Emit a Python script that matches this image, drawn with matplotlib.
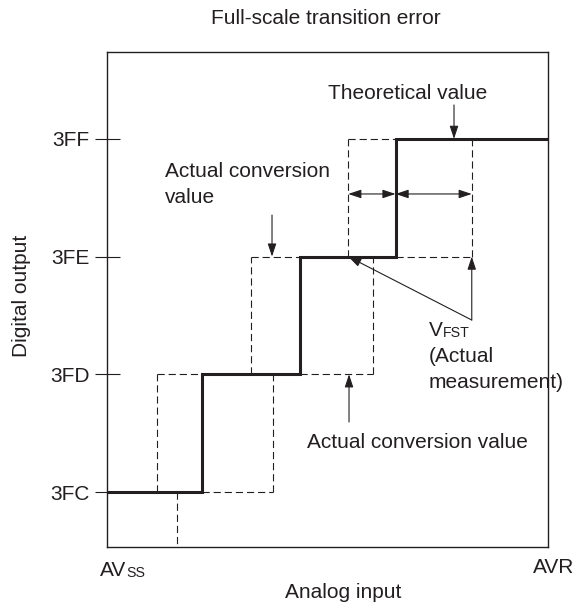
"""Full-scale transition error diagram for an A/D converter."""

import matplotlib

matplotlib.use("Agg")
import matplotlib.pyplot as plt

plt.rcParams["font.family"] = ["Liberation Sans", "DejaVu Sans"]

INK = "#231f20"
FS = 15

# ------------------------------------------------------------------
# Data (x in LSB of analog input, y in output code steps above 3FC)
# ------------------------------------------------------------------
code_labels = ["3FC", "3FD", "3FE", "3FF"]
code_levels = [0, 1, 2, 3]

# thick staircase: transition points of the actual conversion
transitions = [0.98, 2.0, 2.99]

# dashed windows around each transition (left / right edge)
window_left = [0.52, 1.49, 2.50]
window_right = [1.72, 2.76, 3.78]

# lone dashed line below the first code
first_drop_x = 0.725

x_max = 4.57
y_min, y_max = -0.467, 3.738

# ------------------------------------------------------------------
# Figure
# ------------------------------------------------------------------
fig = plt.figure(figsize=(5.81, 6.08), dpi=100)
ax = fig.add_axes([107 / 581, 61 / 608, 441 / 581, 495 / 608])
ax.set_xlim(0, x_max)
ax.set_ylim(y_min, y_max)

for sp in ax.spines.values():
    sp.set_color(INK)
    sp.set_linewidth(1.0)

ax.set_xticks([])
ax.set_yticks(code_levels, code_labels, fontsize=FS, color=INK)
ax.tick_params(axis="y", direction="inout", length=18, width=0.8,
               color=INK, pad=3.5)

# staircase (actual conversion characteristic)
sx = [0]
sy = [code_levels[0]]
for i, t in enumerate(transitions):
    sx += [t, t]
    sy += [code_levels[i], code_levels[i + 1]]
sx.append(x_max)
sy.append(code_levels[-1])
ax.plot(sx, sy, color=INK, lw=2.2, solid_joinstyle="miter", zorder=3)

# dashed windows
dash = dict(color=INK, lw=0.8, linestyle=(0, (6.5, 3.5)), zorder=2)
for i, t in enumerate(transitions):
    lo, hi = code_levels[i], code_levels[i + 1]
    xl, xr = window_left[i], window_right[i]
    ax.plot([xl, xl], [lo, hi], **dash)
    ax.plot([xl, t], [hi, hi], **dash)
    ax.plot([t, xr], [lo, lo], **dash)
    ax.plot([xr, xr], [lo, hi], **dash)
ax.plot([first_drop_x, first_drop_x], [code_levels[0], y_min], **dash)

# arrows
head = dict(arrowstyle="-|>,head_length=0.6,head_width=0.2",
            mutation_scale=13, lw=0.8, color=INK, shrinkA=0, shrinkB=0)
both = dict(arrowstyle="<|-|>,head_length=0.6,head_width=0.2",
            mutation_scale=13, lw=0.8, color=INK, shrinkA=0, shrinkB=0)

y_span = 2.532
ax.annotate("", xy=(window_left[2], y_span), xytext=(transitions[2], y_span),
            arrowprops=both)
ax.annotate("", xy=(transitions[2], y_span), xytext=(window_right[2], y_span),
            arrowprops=both)

# theoretical value
ax.annotate("", xy=(3.596, 3.0), xytext=(3.596, 3.288), arrowprops=head)
ax.text(3.119, 3.339, "Theoretical value", ha="center", va="baseline",
        fontsize=FS, color=INK)

# upper actual conversion value
ax.annotate("", xy=(1.71, 2.0), xytext=(1.71, 2.353), arrowprops=head)
ax.text(0.601, 2.676, "Actual conversion", ha="left", va="baseline",
        fontsize=FS, color=INK)
ax.text(0.601, 2.455, "value", ha="left", va="baseline",
        fontsize=FS, color=INK)

# lower actual conversion value
ax.annotate("", xy=(2.508, 1.0), xytext=(2.508, 0.595), arrowprops=head)
ax.text(3.218, 0.374, "Actual conversion value", ha="center", va="baseline",
        fontsize=FS, color=INK)

# VFST pointers
vfst_x, vfst_y = window_right[2], 1.461
ax.annotate("", xy=(window_left[2], 2.0), xytext=(vfst_x, vfst_y),
            arrowprops=head)
ax.annotate("", xy=(vfst_x, 2.0), xytext=(vfst_x, vfst_y), arrowprops=head)
tv = ax.text(3.337, 1.325, "V", ha="left", va="baseline",
             fontsize=FS, color=INK)
ax.annotate("FST", xy=(1, 0), xycoords=tv, ha="left", va="bottom",
            fontsize=FS * 0.68, color=INK)
ax.text(3.337, 1.104, "(Actual", ha="left", va="baseline",
        fontsize=FS, color=INK)
ax.text(3.337, 0.884, "measurement)", ha="left", va="baseline",
        fontsize=FS, color=INK)

# x-axis end labels
ta = ax.text(-0.073, -0.71, "AV", ha="left", va="baseline",
             fontsize=FS, color=INK, clip_on=False)
ax.annotate("SS", xy=(1, 0), xycoords=ta, ha="left", va="bottom",
            fontsize=FS * 0.68, color=INK, annotation_clip=False)
ax.text(4.632, -0.69, "AVR", ha="center", va="baseline",
        fontsize=FS, color=INK, clip_on=False)

# titles
fig.text(326 / 581, 1 - 18 / 608, "Full-scale transition error",
         ha="center", va="center", fontsize=FS, color=INK)
fig.text(343 / 581, 1 - 593 / 608, "Analog input",
         ha="center", va="center", fontsize=FS, color=INK)
fig.text(22 / 581, 1 - 296 / 608, "Digital output", rotation=90,
         ha="center", va="center", fontsize=FS, color=INK)

fig.savefig("out.png", dpi=100)
